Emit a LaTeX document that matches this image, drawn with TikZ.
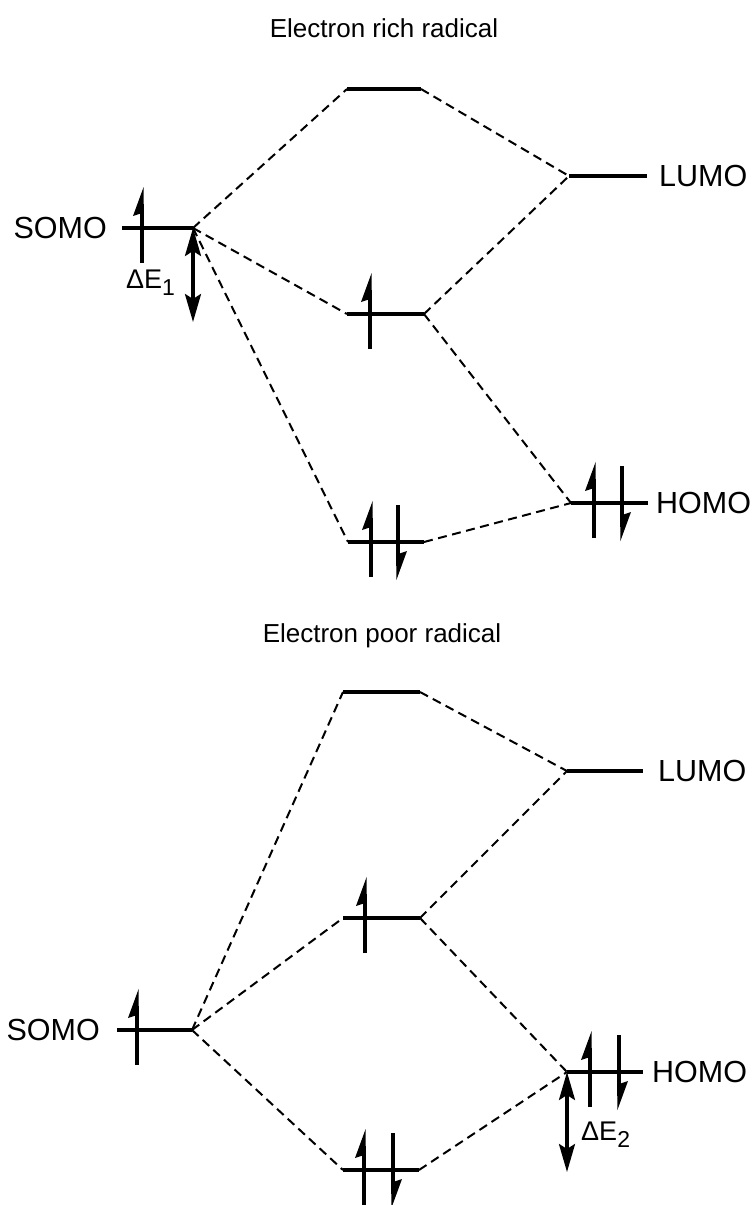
\documentclass[tikz,border=0pt]{standalone}
\usepackage{fontspec}
\setmainfont{Liberation Sans}
\usetikzlibrary{arrows.meta}
\begin{document}
\begin{tikzpicture}[x=1pt,y=-1pt,
 level/.style={line width=3.2pt},
 conn/.style={line width=2pt, dash pattern=on 9pt off 5.5pt},
 lbl/.style={font=\fontsize{30.5}{36}\selectfont, inner sep=0pt},
 ttl/.style={font=\fontsize{26}{31}\selectfont, inner sep=0pt},
 dlbl/.style={font=\fontsize{27}{32}\selectfont, inner sep=0pt},
 gaparrow/.style={line width=3.2pt, {Stealth[length=28pt,width=16pt,inset=5pt]}-{Stealth[length=28pt,width=16pt,inset=5pt]}},
 upe/.pic={\draw[line width=3.2pt] (0,35) -- (0,-24); \fill (1.6,-41) -- (-9,-12) -- (0,-15) -- (1.6,-15) -- cycle;},
 dne/.pic={\draw[line width=3.2pt] (0,-37) -- (0,24); \fill (-1.6,38) -- (9,9) -- (0,12) -- (-1.6,12) -- cycle;}
]
\useasboundingbox (0,0) rectangle (755,1205);

% ===== Electron rich radical =====
\node[ttl, anchor=base] (title1) at (384,37) {Electron rich radical};

\coordinate (t1L) at (347,89);   \coordinate (t1R) at (421,89);
\coordinate (lu1L) at (569,176); \coordinate (lu1R) at (647,176);
\coordinate (so1L) at (122,228); \coordinate (so1R) at (193,228);
\coordinate (m1L) at (347,314);  \coordinate (m1R) at (424,314);
\coordinate (b1L) at (348,542);  \coordinate (b1R) at (424,542);
\coordinate (ho1L) at (571,503); \coordinate (ho1R) at (648,503);
\coordinate (d1) at (193,322);

\foreach \a/\b in {t1L/t1R, lu1L/lu1R, so1L/so1R, m1L/m1R, b1L/b1R, ho1L/ho1R}
  \draw[level] (\a) -- (\b);

\draw[conn] (so1R) -- (t1L);
\draw[conn] (so1R) -- (m1L);
\draw[conn] (so1R) -- (b1L);
\draw[conn] (t1R) -- (lu1L);
\draw[conn] (m1R) -- (lu1L);
\draw[conn] (m1R) -- (ho1L);
\draw[conn] (b1R) -- (ho1L);

\pic at (142,228) {upe};
\pic at (370,314) {upe};
\pic at (371,542) {upe};
\pic at (398,542) {dne};
\pic at (594,503) {upe};
\pic at (622,503) {dne};

\node[lbl, anchor=east] (somo1) at (107,228) {SOMO};
\node[lbl, anchor=west] (lumo1) at (659,176) {LUMO};
\node[lbl, anchor=west] (homo1) at (656,503) {HOMO};

\draw[gaparrow] (so1R) -- (d1);
\node[dlbl, anchor=base west] (de1) at (126,288) {ΔE\raisebox{-7pt}{\fontsize{23}{27}\selectfont 1}};

% ===== Electron poor radical =====
\node[ttl, anchor=base] (title2) at (382,642) {Electron poor radical};

\coordinate (t2L) at (343,692);   \coordinate (t2R) at (420,692);
\coordinate (lu2L) at (567,771);  \coordinate (lu2R) at (643,771);
\coordinate (m2L) at (343,918);   \coordinate (m2R) at (420,918);
\coordinate (so2L) at (117,1030); \coordinate (so2R) at (192,1030);
\coordinate (b2L) at (343,1170);  \coordinate (b2R) at (419,1170);
\coordinate (ho2L) at (567,1072); \coordinate (ho2R) at (643,1072);
\coordinate (d2) at (567,1172);

\foreach \a/\b in {t2L/t2R, lu2L/lu2R, m2L/m2R, so2L/so2R, b2L/b2R, ho2L/ho2R}
  \draw[level] (\a) -- (\b);

\draw[conn] (so2R) -- (t2L);
\draw[conn] (so2R) -- (m2L);
\draw[conn] (so2R) -- (b2L);
\draw[conn] (t2R) -- (lu2L);
\draw[conn] (m2R) -- (lu2L);
\draw[conn] (m2R) -- (ho2L);
\draw[conn] (b2R) -- (ho2L);

\pic at (137,1030) {upe};
\pic at (365,918) {upe};
\pic at (364,1170) {upe};
\pic at (393,1170) {dne};
\pic at (590,1072) {upe};
\pic at (619,1072) {dne};

\node[lbl, anchor=east] (somo2) at (100,1030) {SOMO};
\node[lbl, anchor=west] (lumo2) at (658,771) {LUMO};
\node[lbl, anchor=west] (homo2) at (652,1072) {HOMO};

\draw[gaparrow] (ho2L) -- (d2);
\node[dlbl, anchor=base west] (de2) at (581,1140) {ΔE\raisebox{-7pt}{\fontsize{23}{27}\selectfont 2}};
\end{tikzpicture}
\end{document}
